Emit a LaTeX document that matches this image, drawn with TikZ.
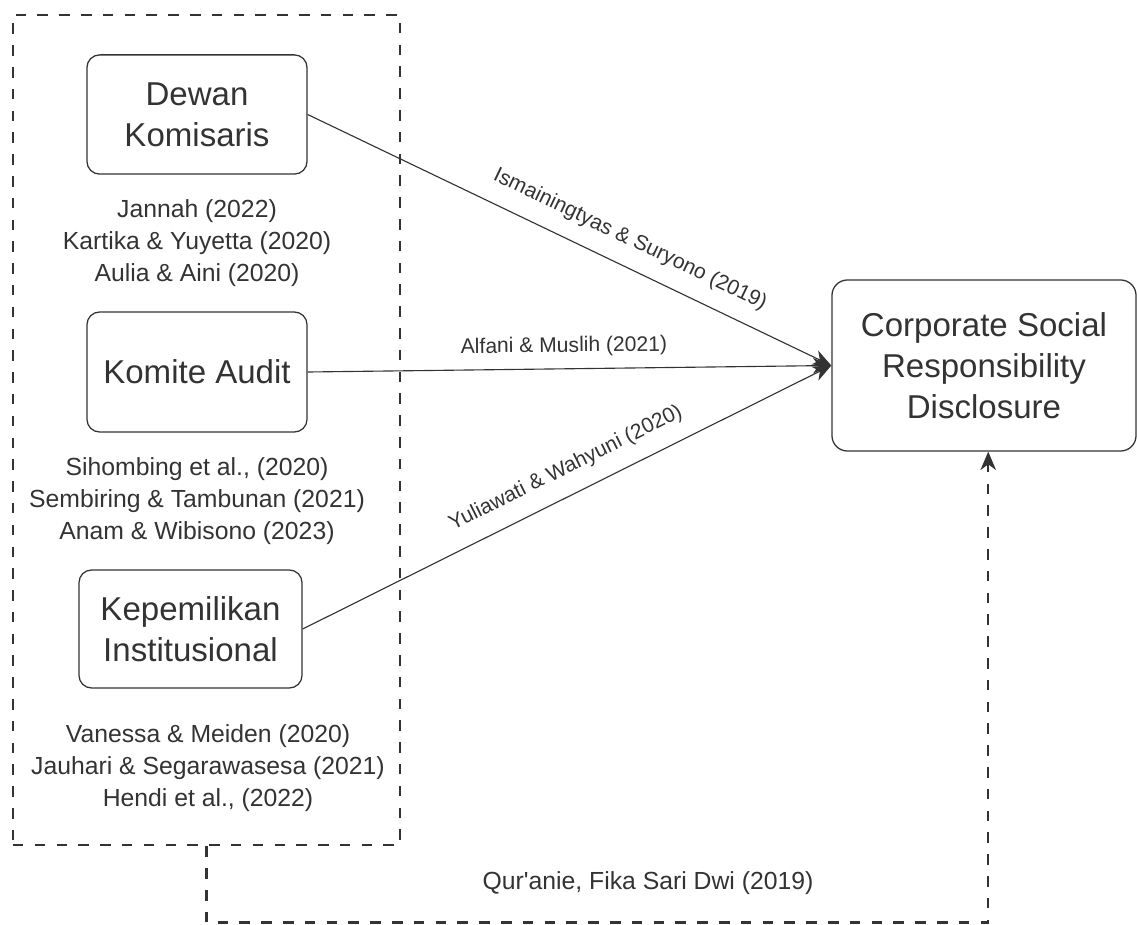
\documentclass[tikz,border=0pt]{standalone}
\usepackage{fontspec}
\setmainfont{Liberation Sans}
\usetikzlibrary{arrows.meta}
\definecolor{ink}{HTML}{333333}

\begin{document}
\begin{tikzpicture}[x=0.025cm, y=-0.025cm,
  kotak/.style={draw=ink, line width=0.9pt, rounded corners=9pt, align=center, text=ink,
    inner sep=0pt, font=\fontsize{23.5}{29}\selectfont},
  sitasi/.style={align=center, text=ink, font=\fontsize{17.6}{22.8}\selectfont},
  ket/.style={text=ink, font=\fontsize{15}{18}\selectfont, sloped},
  panah/.style={draw=ink, line width=0.8pt, -{Stealth[length=13pt, width=11pt, inset=4pt]}},
  putus/.style={draw=ink, line width=1.9pt, dash pattern=on 7.5pt off 8pt}]
  \useasboundingbox (0,0) rectangle (1137,925);
  % kelompok variabel independen
  \node[putus, minimum width=9.675cm, minimum height=20.75cm, inner sep=0pt] (grup) at (206.5,430) {};
  \node[kotak, minimum width=5.5cm, minimum height=2.98cm] (dk) at (197,114.5) {Dewan\\Komisaris};
  \node[sitasi] (s1) at (197,243) {Jannah (2022)\\Kartika \& Yuyetta (2020)\\Aulia \& Aini (2020)};
  \node[kotak, minimum width=5.5cm, minimum height=3cm] (ka) at (197,372) {Komite Audit};
  \node[sitasi] (s2) at (197,501) {Sihombing et al., (2020)\\Sembiring \& Tambunan (2021)\\Anam \& Wibisono (2023)};
  \node[kotak, minimum width=5.575cm, minimum height=2.95cm] (ki) at (190.5,629) {Kepemilikan\\Institusional};
  \node[sitasi] (s3) at (208,768) {Vanessa \& Meiden (2020)\\Jauhari \& Segarawasesa (2021)\\Hendi et al., (2022)};
  % variabel dependen
  \node[kotak, rounded corners=11pt, minimum width=7.6cm, minimum height=4.275cm] (csr) at (984,365.5)
    {Corporate Social\\Responsibility\\Disclosure};
  % hubungan
  \draw[panah] (dk.east) -- node[ket, pos=0.594, above=8pt] {Ismainingtyas \& Suryono (2019)} (csr.west);
  \draw[panah] (ka.east) -- node[ket, pos=0.49, above=5pt] {Alfani \& Muslih (2021)} (csr.west);
  \draw[panah] (ki.east) -- node[ket, pos=0.52, above=8pt] {Yuliawati \& Wahyuni (2020)} (csr.west);
  \draw[putus, line width=1.7pt, -{Stealth[length=13pt, width=11pt, inset=4pt]}]
    (grup.south) -- ++(0,76) coordinate (sudut) -| ([xshift=3pt]csr.south);
  \node[sitasi] (s4) at (648,883) {Qur\textquotesingle anie, Fika Sari Dwi (2019)};
\end{tikzpicture}
\end{document}
